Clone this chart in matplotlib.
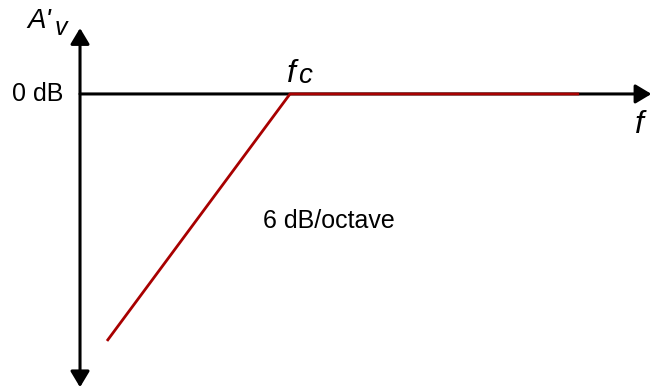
import numpy as np
import matplotlib.pyplot as plt
from matplotlib.patches import FancyArrowPatch

plt.rcParams['font.family'] = ['Liberation Sans', 'DejaVu Sans']

# response in octaves relative to fc, gain in dB (6 dB / octave roll-off)
octaves = [-4.0, 0.0, 6.32]
gain_db = [-24.0, 0.0, 0.0]

red = '#a80000'

fig = plt.figure(figsize=(6.51, 3.89), dpi=100)
ax = fig.add_axes([0, 0, 1, 1])
ax.set_xlim(-6.339, 7.891)
ax.set_ylim(-28.67, 9.13)
ax.axis('off')

x_axis0 = -4.59  # where the vertical axis sits

# vertical axis, arrow both ends
ax.add_patch(FancyArrowPatch((x_axis0, -28.5), (x_axis0, 6.4),
                             arrowstyle='<|-|>,head_length=6,head_width=3.6',
                             mutation_scale=1.6, color='black', lw=2.2,
                             shrinkA=0, shrinkB=0))
# horizontal axis
ax.add_patch(FancyArrowPatch((x_axis0, 0), (7.9, 0),
                             arrowstyle='-|>,head_length=6,head_width=3.6',
                             mutation_scale=1.6, color='black', lw=2.2,
                             shrinkA=0, shrinkB=0))

ax.plot(octaves, gain_db, color=red, lw=2, solid_capstyle='butt', zorder=3)

ax.text(-4.96, 0, '0 dB', ha='right', va='center', fontsize=18)
ax.text(-5.75, 6.41, "A'", ha='left', va='baseline', fontsize=20, style='italic')
ax.text(-5.15, 5.73, "v", ha='left', va='baseline', fontsize=18, style='italic')
ax.text(-0.06, 1.17, 'f', ha='left', va='baseline', fontsize=23, style='italic')
ax.text(0.17, 1.1, 'c', ha='left', va='baseline', fontsize=20, style='italic')
ax.text(7.63, -3.79, 'f', ha='center', va='baseline', fontsize=23, style='italic')
ax.text(-0.59, -12.34, '6 dB/octave', ha='left', va='center', fontsize=18)

fig.savefig('out.png', dpi=100)
